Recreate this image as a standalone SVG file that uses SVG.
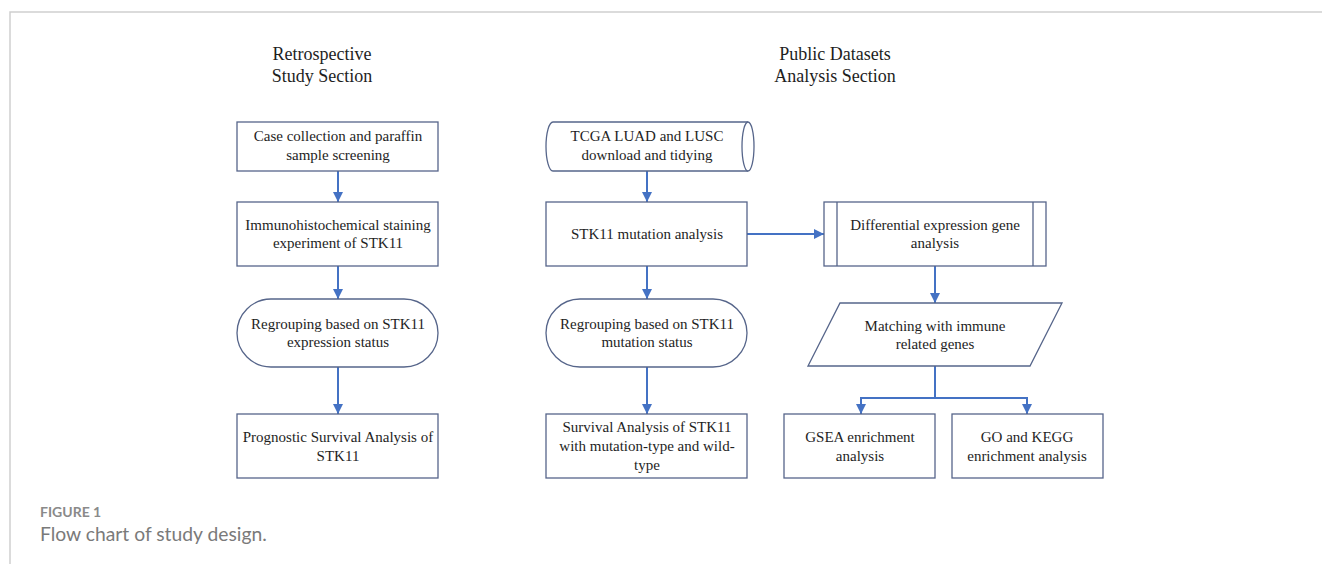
<svg xmlns="http://www.w3.org/2000/svg" width="1322" height="564" viewBox="0 0 1322 564">
<style>
.n{fill:#fff;stroke:#56658a;stroke-width:1.3}
.t{font-family:"Liberation Serif","Times New Roman",serif;font-size:15px;fill:#1e1e1e;text-anchor:middle}
.h{font-family:"Liberation Serif","Times New Roman",serif;font-size:18px;fill:#1e1e1e;text-anchor:middle}
.c{fill:none;stroke:#4472c4;stroke-width:2}
.cap1{font-family:Lato,"Open Sans",sans-serif;font-size:14px;font-weight:bold;fill:#8a8a8a}
.cap2{font-family:Lato,"Open Sans",sans-serif;font-size:19.3px;fill:#7a7a7a}
</style>
<defs>
<marker id="ah" viewBox="0 0 10 10" refX="10" refY="5" markerWidth="5" markerHeight="5" orient="auto" markerUnits="strokeWidth">
<path d="M0,0 L10,5 L0,10 z" fill="#4472c4"/>
</marker>
</defs>
<rect width="1322" height="564" fill="#fff"/>
<path d="M10,564 V12 H1322" fill="none" stroke="#cfcfcf" stroke-width="1.5"/>
<g id="headings">
<text class="h" x="322" y="60">Retrospective</text>
<text class="h" x="322" y="82">Study Section</text>
<text class="h" x="835" y="60">Public Datasets</text>
<text class="h" x="835" y="82">Analysis Section</text>
</g>
<g id="connectors">
<path class="c" d="M338,171 V202" marker-end="url(#ah)"/>
<path class="c" d="M338,266 V299" marker-end="url(#ah)"/>
<path class="c" d="M338,367 V414" marker-end="url(#ah)"/>
<path class="c" d="M647,171 V202" marker-end="url(#ah)"/>
<path class="c" d="M647,266 V299" marker-end="url(#ah)"/>
<path class="c" d="M647,367 V414" marker-end="url(#ah)"/>
<path class="c" d="M747,234 H824" marker-end="url(#ah)"/>
<path class="c" d="M935,266 V303" marker-end="url(#ah)"/>
<path class="c" d="M935,366 V398 H861 V414" marker-end="url(#ah)"/>
<path class="c" d="M935,398 H1027 V414" marker-end="url(#ah)"/>
</g>
<g id="n-case">
<rect class="n" x="237" y="122" width="201" height="49"/>
<text class="t" x="338" y="141">Case collection and paraffin</text>
<text class="t" x="338" y="160">sample screening</text>
</g>
<g id="n-ihc">
<rect class="n" x="237" y="202" width="201" height="64"/>
<text class="t" x="338" y="230">Immunohistochemical staining</text>
<text class="t" x="338" y="248">experiment of STK11</text>
</g>
<g id="n-regroup-expr">
<rect class="n" x="237" y="299" width="201" height="68" rx="34" ry="34"/>
<text class="t" x="338" y="329">Regrouping based on STK11</text>
<text class="t" x="338" y="347">expression status</text>
</g>
<g id="n-prognostic">
<rect class="n" x="237" y="414" width="201" height="64"/>
<text class="t" x="338" y="442">Prognostic Survival Analysis of</text>
<text class="t" x="338" y="461">STK11</text>
</g>
<g id="n-tcga">
<path class="n" d="M553,122 H748 A6,24.5 0 0 1 748,171 H553 A7,24.5 0 0 1 553,122 Z"/>
<path class="n" d="M748,122 A6,24.5 0 0 0 748,171" fill="none"/>
<text class="t" x="647" y="141">TCGA LUAD and LUSC</text>
<text class="t" x="647" y="160">download and tidying</text>
</g>
<g id="n-mutation">
<rect class="n" x="546" y="202" width="201" height="64"/>
<text class="t" x="647" y="239">STK11 mutation analysis</text>
</g>
<g id="n-regroup-mut">
<rect class="n" x="546" y="299" width="201" height="68" rx="34" ry="34"/>
<text class="t" x="647" y="329">Regrouping based on STK11</text>
<text class="t" x="647" y="347">mutation status</text>
</g>
<g id="n-survival">
<rect class="n" x="546" y="414" width="201" height="64"/>
<text class="t" x="647" y="432">Survival Analysis of STK11</text>
<text class="t" x="647" y="451">with mutation-type and wild-</text>
<text class="t" x="647" y="470">type</text>
</g>
<g id="n-deg">
<rect class="n" x="824" y="202" width="222" height="64"/>
<path class="n" d="M837,202 V266 M1033,202 V266"/>
<text class="t" x="935" y="230">Differential expression gene</text>
<text class="t" x="935" y="248">analysis</text>
</g>
<g id="n-matching">
<polygon class="n" points="840,303 1062,303 1030,366 808,366"/>
<text class="t" x="935" y="331">Matching with immune</text>
<text class="t" x="935" y="349">related genes</text>
</g>
<g id="n-gsea">
<rect class="n" x="784" y="414" width="151" height="64"/>
<text class="t" x="860" y="442">GSEA enrichment</text>
<text class="t" x="860" y="461">analysis</text>
</g>
<g id="n-go">
<rect class="n" x="952" y="414" width="151" height="64"/>
<text class="t" x="1027" y="442">GO and KEGG</text>
<text class="t" x="1027" y="461">enrichment analysis</text>
</g>
<g id="caption">
<text class="cap1" x="40" y="517">FIGURE 1</text>
<text class="cap2" x="40" y="541">Flow chart of study design.</text>
</g>
</svg>
